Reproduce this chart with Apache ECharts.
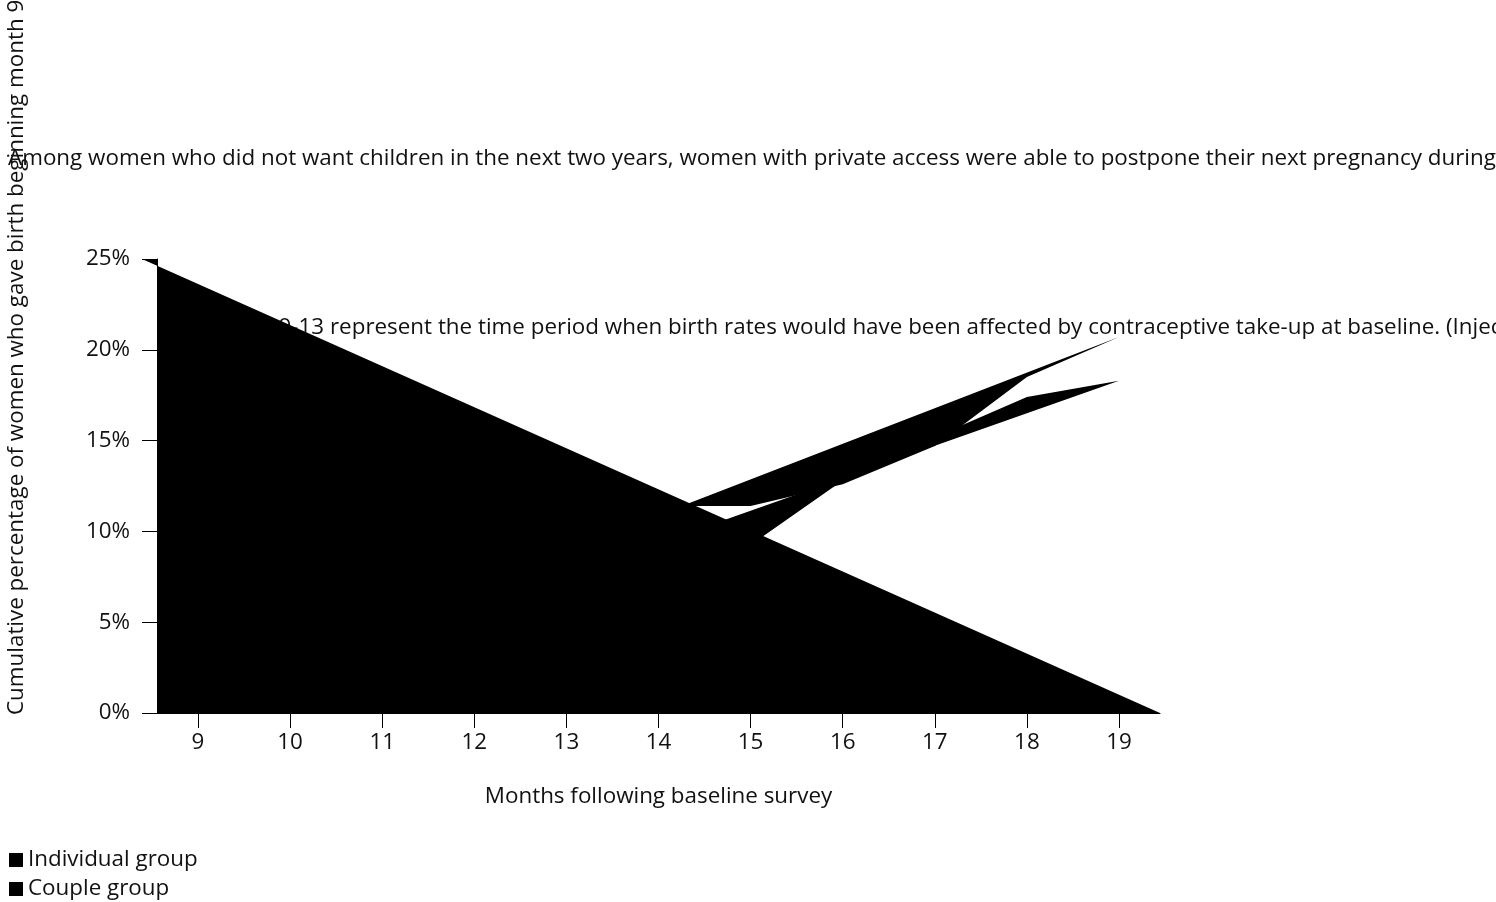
<!DOCTYPE html>
<html><head><meta charset="utf-8">
<script src="https://cdn.jsdelivr.net/npm/echarts@6/dist/echarts.min.js"></script>
<style>html,body{margin:0;padding:0;background:#fff}#c{width:1496px;height:902px}</style>
</head><body><div id="c"></div>
<script>
const months = [9, 10, 11, 12, 13, 14, 15, 16, 17, 18, 19];
const individualGroup = [0.4, 2.0, 3.8, 5.5, 7.2, 8.3, 9.25, 12.8, 15.2, 17.4, 18.3];
const coupleGroup = [1.1, 3.0, 5.2, 7.5, 9.6, 11.4, 11.4, 12.6, 14.7, 18.5, 20.7];
const yTicks = [0, 5, 10, 15, 20, 25];
const shadeCorners = [[8.392, 25], [19.445, 0], [8.555, 0], [8.555, 25]];
const titleText = 'Among women who did not want children in the next two years, women with private access were able to postpone their next pregnancy during the study period.';
const noteText = 'Months 9-13 represent the time period when birth rates would have been affected by contraceptive take-up at baseline. (Injectables last for three months.)';
const yName = 'Cumulative percentage of women who gave birth beginning month 9';
const xName = 'Months following baseline survey';

const FONT = '"Open Sans", "Noto Sans", sans-serif';
const FS = 22.4;
const TXT = '#111';
const chart = echarts.init(document.getElementById('c'), null, {renderer: 'canvas'});

function polySeries(name, xs, ys, z) {
  return {
    name: name, type: 'custom', clip: false, z: z,
    itemStyle: {color: '#000'},
    data: xs.map((m, i) => [m, ys[i]]),
    renderItem: function (params, api) {
      if (params.dataIndex !== 0) return null;
      const pts = xs.map((m, i) => api.coord([m, ys[i]]));
      return {type: 'polygon', shape: {points: pts}, style: {fill: '#000'}};
    }
  };
}

chart.setOption({
  animation: false,
  textStyle: {fontFamily: FONT},
  title: {
    text: titleText, left: 8, top: 148, padding: 0,
    textStyle: {fontFamily: FONT, fontSize: FS, fontWeight: 'normal', color: TXT}
  },
  legend: {
    orient: 'vertical', left: 9, bottom: 2, itemGap: 7, padding: 0,
    icon: 'rect', itemWidth: 14, itemHeight: 14,
    textStyle: {fontFamily: FONT, fontSize: FS, color: TXT},
    data: ['Individual group', 'Couple group']
  },
  grid: {left: 157, right: 336, top: 259, bottom: 189, outerBoundsMode: 'none', containLabel: false},
  xAxis: {
    type: 'value', min: 8.555, max: 19.445,
    name: xName, nameLocation: 'middle', nameGap: 73,
    nameTextStyle: {fontFamily: FONT, fontSize: FS, color: TXT},
    splitLine: {show: false},
    axisLine: {show: true, lineStyle: {color: '#000'}},
    axisTick: {show: true, length: 15, lineStyle: {color: '#000'}, customValues: months},
    axisLabel: {customValues: months, margin: 19, fontFamily: FONT, fontSize: FS, color: TXT}
  },
  yAxis: {
    type: 'value', min: 0, max: 25, interval: 5,
    splitLine: {show: false},
    axisLine: {show: true, lineStyle: {color: '#000'}},
    axisTick: {show: true, length: 15, lineStyle: {color: '#000'}, customValues: yTicks},
    axisLabel: {customValues: yTicks, margin: 27, fontFamily: FONT, fontSize: FS, color: TXT,
      formatter: v => v + '%'}
  },
  graphic: [{
    type: 'text', x: 193, y: 328, z: 0, zlevel: 0,
    style: {text: noteText, fontFamily: FONT, fontSize: FS, fill: TXT, textVerticalAlign: 'middle'}
  }, {
    type: 'text', x: 17, y: 715, rotation: Math.PI / 2, z: 0,
    style: {text: yName, fontFamily: FONT, fontSize: FS, fill: TXT, textAlign: 'left', textVerticalAlign: 'middle'}
  }],
  series: [
    polySeries('Individual group', months, individualGroup, 5),
    polySeries('Couple group', months, coupleGroup, 5),
    {
      name: 'shade', type: 'custom', clip: false, z: 6,
      itemStyle: {color: '#000'},
      data: shadeCorners,
      renderItem: function (params, api) {
        if (params.dataIndex !== 0) return null;
        const pts = shadeCorners.map(p => api.coord(p));
        return {type: 'polygon', shape: {points: pts}, style: {fill: '#000'}};
      }
    }
  ]
});
</script></body></html>
